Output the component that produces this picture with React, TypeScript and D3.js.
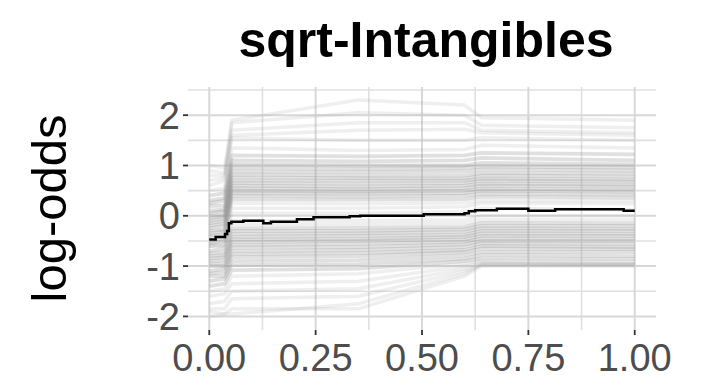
import React from "react";
import * as d3 from "d3";

const W = 711;
const H = 386;

const TITLE = "sqrt-Intangibles";
const Y_TITLE = "log-odds";
const X_TICKS = [0, 0.25, 0.5, 0.75, 1];
const X_TICK_LABELS = ["0.00", "0.25", "0.50", "0.75", "1.00"];
const X_MINOR = [0.125, 0.375, 0.625, 0.875];
const Y_TICKS = [-2, -1, 0, 1, 2];
const Y_TICK_LABELS = ["-2", "-1", "0", "1", "2"];
const Y_MINOR = [-1.5, -0.5, 0.5, 1.5, 2.5];

// ICE curves: values at these feature positions
const ICE_X = [0, 0.036, 0.053, 0.35, 0.6, 0.64, 1.0];

const iceCore: number[][] = [
  [0.4, 0.45, 1.2, 1.18, 1.2, 1.25, 1.22],
  [0.3, 0.35, 1.1, 1.08, 1.1, 1.15, 1.1],
  [0.25, 0.3, 1.02, 1.0, 1.0, 1.05, 1.02],
  [0.2, 0.2, 0.95, 0.93, 0.95, 0.98, 0.96],
  [0.1, 0.12, 0.88, 0.87, 0.88, 0.92, 0.9],
  [0.05, 0.1, 0.82, 0.8, 0.8, 0.85, 0.84],
  [0.0, 0.02, 0.76, 0.75, 0.74, 0.8, 0.78],
  [-0.05, 0.0, 0.7, 0.7, 0.7, 0.74, 0.72],
  [-0.1, -0.05, 0.65, 0.64, 0.65, 0.7, 0.68],
  [-0.15, -0.1, 0.6, 0.58, 0.6, 0.64, 0.62],
  [-0.2, -0.15, 0.55, 0.53, 0.55, 0.6, 0.58],
  [-0.25, -0.2, 0.5, 0.48, 0.5, 0.54, 0.52],
  [-0.3, -0.28, 0.45, 0.44, 0.45, 0.5, 0.48],
  [-0.35, -0.3, 0.4, 0.38, 0.4, 0.44, 0.42],
  [-0.4, -0.38, 0.33, 0.32, 0.33, 0.38, 0.36],
  [-0.55, -0.5, -0.25, -0.24, -0.22, -0.14, -0.15],
  [-0.6, -0.58, -0.3, -0.3, -0.27, -0.2, -0.2],
  [-0.7, -0.65, -0.36, -0.35, -0.32, -0.25, -0.26],
  [-0.75, -0.72, -0.42, -0.4, -0.38, -0.3, -0.3],
  [-0.8, -0.78, -0.47, -0.46, -0.42, -0.35, -0.36],
  [-0.85, -0.82, -0.52, -0.5, -0.47, -0.4, -0.4],
  [-0.9, -0.88, -0.58, -0.56, -0.52, -0.45, -0.46],
  [-0.95, -0.95, -0.63, -0.62, -0.57, -0.5, -0.5],
  [-1.0, -1.0, -0.7, -0.68, -0.62, -0.55, -0.56],
  [-1.1, -1.05, -0.76, -0.74, -0.68, -0.6, -0.62],
  [-1.15, -1.12, -0.82, -0.8, -0.72, -0.65, -0.66],
  [-1.2, -1.2, -0.9, -0.88, -0.78, -0.72, -0.72],
  [-1.3, -1.25, -0.98, -0.96, -0.85, -0.78, -0.8],
  [-1.4, -1.35, -1.08, -1.05, -0.9, -0.85, -0.86],
];

const iceFaint: number[][] = [
  [1.0, 0.95, 1.9, 2.3, 2.2, 1.95, 1.9],
  [0.9, 0.85, 1.85, 2.05, 2.0, 1.8, 1.75],
  [0.8, 0.8, 1.7, 1.85, 1.85, 1.7, 1.65],
  [0.7, 0.75, 1.6, 1.7, 1.72, 1.65, 1.6],
  [0.6, 0.7, 1.55, 1.5, 1.5, 1.55, 1.5],
  [0.5, 0.55, 1.35, 1.3, 1.32, 1.4, 1.35],
  [-0.5, -0.45, 0.25, 0.24, 0.26, 0.3, 0.3],
  [-0.55, -0.5, 0.15, 0.15, 0.18, 0.25, 0.24],
  [-0.6, -0.6, 0.05, 0.05, 0.08, 0.15, 0.12],
  [-0.4, -0.35, -0.1, -0.1, -0.08, 0.0, 0.0],
  [-0.5, -0.45, -0.18, -0.17, -0.15, -0.08, -0.08],
  [-1.5, -1.45, -1.2, -1.15, -0.95, -0.9, -0.92],
  [-1.6, -1.55, -1.35, -1.3, -1.0, -0.93, -0.95],
  [-1.75, -1.7, -1.5, -1.45, -1.05, -0.95, -0.97],
  [-1.85, -1.85, -1.65, -1.6, -1.1, -0.98, -0.98],
  [-2.0, -1.95, -1.85, -1.85, -1.2, -1.0, -1.0],
  [-1.9, -1.95, -1.95, -1.75, -1.15, -0.97, -0.96],
];

// partial dependence (average) curve
const PDP_X = [0, 0.015, 0.037, 0.042, 0.046, 0.052, 0.08, 0.127, 0.145, 0.206, 0.245, 0.33, 0.355, 0.504, 0.6, 0.61, 0.625, 0.676, 0.75, 0.813, 0.974, 1.0];
const PDP_Y = [-0.47, -0.42, -0.36, -0.3, -0.15, -0.12, -0.1, -0.15, -0.12, -0.07, -0.03, -0.01, 0.0, 0.03, 0.05, 0.09, 0.11, 0.14, 0.1, 0.13, 0.1, 0.1];

const PANEL = { left: 188, right: 656, top: 87, bottom: 330 };

export default function App() {
  const x = d3.scaleLinear().domain([-0.05, 1.05]).range([PANEL.left, PANEL.right]);
  const y = d3.scaleLinear().domain([-2.27, 2.56]).range([PANEL.bottom, PANEL.top]);

  const iceLine = d3
    .line<number>()
    .x((_, i) => x(ICE_X[i]))
    .y((d) => y(d));

  const pdpLine = d3
    .line<number>()
    .x((_, i) => x(PDP_X[i]))
    .y((d) => y(d))
    .curve(d3.curveStepAfter);

  const font = "'Liberation Sans', Arial, sans-serif";

  return (
    <svg
      width={W}
      height={H}
      style={{ position: "fixed", left: 0, top: 0, background: "#fff" }}
      fontFamily={font}
    >
      <rect x={0} y={0} width={W} height={H} fill="#fff" />
      {/* grid */}
      {Y_MINOR.map((v) => (
        <line key={"ym" + v} x1={PANEL.left} x2={PANEL.right} y1={y(v)} y2={y(v)} stroke="#e0e0e0" strokeWidth={1.6} />
      ))}
      {X_MINOR.map((v) => (
        <line key={"xm" + v} x1={x(v)} x2={x(v)} y1={PANEL.top} y2={PANEL.bottom} stroke="#e0e0e0" strokeWidth={1.6} />
      ))}
      {Y_TICKS.map((v) => (
        <line key={"yg" + v} x1={PANEL.left} x2={PANEL.right} y1={y(v)} y2={y(v)} stroke="#d8d8d8" strokeWidth={2} />
      ))}
      {X_TICKS.map((v) => (
        <line key={"xg" + v} x1={x(v)} x2={x(v)} y1={PANEL.top} y2={PANEL.bottom} stroke="#d8d8d8" strokeWidth={2} />
      ))}

      {/* ICE curves */}
      <g fill="none" stroke="#999" strokeLinejoin="round">
        {iceFaint.map((c, i) => (
          <path key={"f" + i} d={iceLine(c) || ""} strokeOpacity={0.16} strokeWidth={3.5} />
        ))}
        {iceCore.map((c, i) => (
          <path key={"c" + i} d={iceLine(c) || ""} strokeOpacity={0.3} strokeWidth={3.8} />
        ))}
      </g>

      {/* PDP */}
      <path d={pdpLine(PDP_Y) || ""} fill="none" stroke="#000" strokeWidth={2.5} />

      {/* axes ticks */}
      {Y_TICKS.map((v, i) => (
        <g key={"yt" + v}>
          <line x1={PANEL.left - 5} x2={PANEL.left} y1={y(v)} y2={y(v)} stroke="#333" strokeWidth={1.8} />
          <text x={PANEL.left - 8} y={y(v)} dy="0.36em" textAnchor="end" fontSize={38} fill="#4d4d4d">
            {Y_TICK_LABELS[i]}
          </text>
        </g>
      ))}
      {X_TICKS.map((v, i) => (
        <g key={"xt" + v}>
          <line x1={x(v)} x2={x(v)} y1={PANEL.bottom} y2={PANEL.bottom + 5} stroke="#333" strokeWidth={1.8} />
          <text x={x(v)} y={371} textAnchor="middle" fontSize={38} fill="#4d4d4d">
            {X_TICK_LABELS[i]}
          </text>
        </g>
      ))}

      {/* titles */}
      <text
        transform={`translate(66, ${(PANEL.top + PANEL.bottom) / 2}) rotate(-90)`}
        textAnchor="middle"
        fontSize={49}
        fill="#000"
      >
        {Y_TITLE}
      </text>
      <text x={(PANEL.left + PANEL.right) / 2 + 4} y={57} textAnchor="middle" fontSize={50} fontWeight="bold" fill="#000">
        {TITLE}
      </text>
    </svg>
  );
}
